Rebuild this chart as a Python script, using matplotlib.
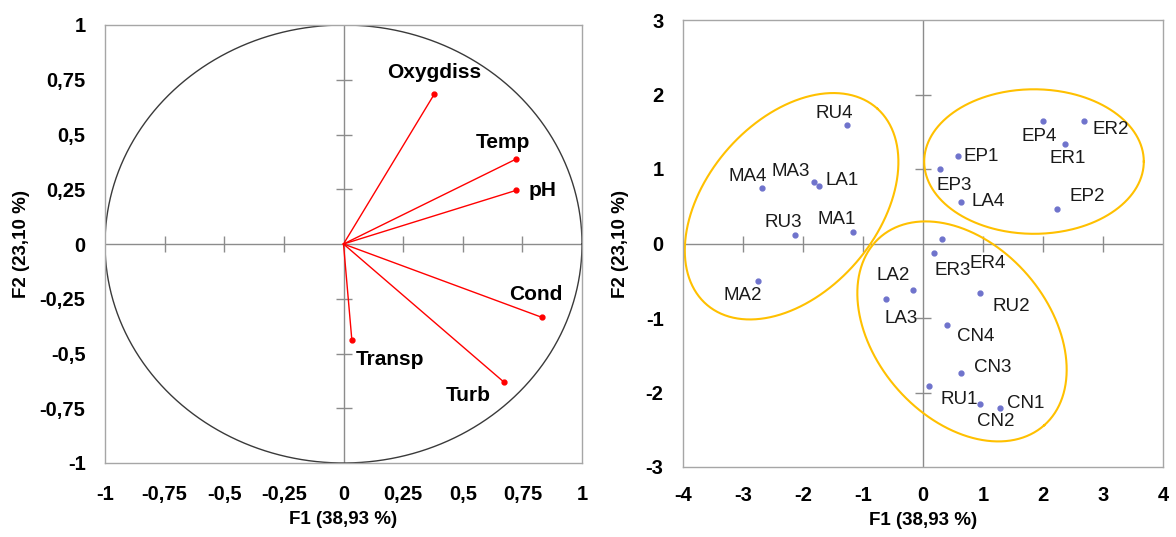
import numpy as np
import matplotlib
matplotlib.use("Agg")
import matplotlib.pyplot as plt

plt.rcParams['font.family'] = ['Liberation Sans', 'DejaVu Sans']

# correlation circle: variable loadings on F1 / F2
variables = ['Oxygdiss', 'Temp', 'pH', 'Cond', 'Turb', 'Transp']
var_f1 = [0.381, 0.724, 0.724, 0.832, 0.671, 0.035]
var_f2 = [0.685, 0.388, 0.245, -0.335, -0.629, -0.438]

# observations (stations) on F1 / F2
stations = ['RU4', 'MA4', 'MA3', 'LA1', 'RU3', 'MA1', 'MA2', 'LA2', 'LA3',
            'ER3', 'ER4', 'RU2', 'CN4', 'CN3', 'RU1', 'CN2', 'CN1',
            'EP4', 'ER2', 'ER1', 'EP1', 'EP3', 'LA4', 'EP2']
obs_f1 = [-1.27, -2.68, -1.82, -1.73, -2.13, -1.17, -2.75, -0.17, -0.62,
          0.19, 0.31, 0.95, 0.40, 0.63, 0.10, 0.95, 1.28,
          2.00, 2.69, 2.36, 0.58, 0.29, 0.64, 2.23]
obs_f2 = [1.59, 0.74, 0.83, 0.77, 0.11, 0.15, -0.51, -0.63, -0.75,
          -0.13, 0.06, -0.67, -1.10, -1.74, -1.91, -2.15, -2.21,
          1.65, 1.65, 1.34, 1.17, 1.00, 0.56, 0.46]

# groups drawn as ellipses: centre and the two half-axis vectors
ell_center = [(-2.19, 0.50), (1.85, 1.10), (0.65, -1.18)]
ell_axis_u = [(1.43, 1.31), (1.83, 0.0), (1.37, -1.26)]
ell_axis_v = [(-1.06, 0.77), (0.0, 0.97), (1.08, 0.77)]

circle_ticks = [-1, -0.75, -0.5, -0.25, 0, 0.25, 0.5, 0.75, 1]
x_ticks = [-4, -3, -2, -1, 0, 1, 2, 3, 4]
y_ticks = [-3, -2, -1, 0, 1, 2, 3]

xlabel = 'F1 (38,93 %)'
ylabel = 'F2 (23,10 %)'

# label placement, offsets in pixels from each point
var_offsets = {'Oxygdiss': (0, 21), 'Temp': (-13, 17), 'pH': (26, 0),
               'Cond': (-6, 23), 'Turb': (-35, -14), 'Transp': (38, -20)}
obs_offsets = {'RU4': (-13, 12), 'MA4': (-15, 12), 'MA3': (-23, 10),
               'LA1': (23, 6), 'RU3': (-12, 13), 'MA1': (-16, 13),
               'MA2': (-15, -14), 'LA2': (-20, 15), 'LA3': (15, -19),
               'ER3': (18, -17), 'ER4': (46, -24), 'RU2': (31, -13),
               'CN4': (29, -11), 'CN3': (32, 6), 'RU1': (30, -14),
               'CN2': (16, -18), 'CN1': (26, 5), 'EP4': (-4, -16),
               'ER2': (26, -9), 'ER1': (3, -15), 'EP1': (23, 0),
               'EP3': (14, -17), 'LA4': (27, 0), 'EP2': (30, 13)}

AXIS_GREY = '#8c8c8c'
FRAME_GREY = '#a6a6a6'


def fmt(v):
    return f"{v:g}".replace('.', ',')


def style_axes(ax, xt, yt, xlim, ylim, xpad, ylabelpad):
    ax.set_xlim(*xlim)
    ax.set_ylim(*ylim)
    ax.set_xticks(xt)
    ax.set_yticks(yt)
    ax.set_xticklabels([fmt(v) for v in xt], fontweight='bold', fontsize=14.5)
    ax.set_yticklabels([fmt(v) for v in yt], fontweight='bold', fontsize=14.5)
    ax.tick_params(axis='x', length=0, pad=xpad)
    ax.tick_params(axis='y', length=0, pad=14)
    for s in ax.spines.values():
        s.set_color(FRAME_GREY)
        s.set_linewidth(1)
    # axes through the origin with crossing tick marks
    ax.axhline(0, color=AXIS_GREY, lw=1, zorder=1)
    ax.axvline(0, color=AXIS_GREY, lw=1, zorder=1)
    inner_x = [v for v in xt if xlim[0] < v < xlim[1] and v != 0]
    inner_y = [v for v in yt if ylim[0] < v < ylim[1] and v != 0]
    ax.plot(inner_x, np.zeros(len(inner_x)), ls='none', marker='|',
            ms=12, mew=1, color=AXIS_GREY, zorder=1)
    ax.plot(np.zeros(len(inner_y)), inner_y, ls='none', marker='_',
            ms=12, mew=1, color=AXIS_GREY, zorder=1)
    ax.set_xlabel(xlabel, fontweight='bold', fontsize=13.5, labelpad=5)
    ax.set_ylabel(ylabel, fontweight='bold', fontsize=13.5, labelpad=ylabelpad)


fig = plt.figure(figsize=(11.76, 5.37), dpi=100)

# correlation circle
ax1 = fig.add_axes([105 / 1176, 74 / 537, 477 / 1176, 438 / 537])
style_axes(ax1, circle_ticks, circle_ticks, (-1, 1), (-1, 1), 16, 7)
t = np.linspace(0, 2 * np.pi, 400)
ax1.plot(np.cos(t), np.sin(t), color='#3a3a3a', lw=1, zorder=2)
for name, x, y in zip(variables, var_f1, var_f2):
    ax1.plot([0, x], [0, y], color='#ff0000', lw=1, zorder=3)
    ax1.plot(x, y, 'o', color='#ff0000', ms=3.5, zorder=4)
    dx, dy = var_offsets[name]
    ax1.annotate(name, (x, y), xytext=(dx, dy), textcoords='offset pixels',
                 ha='center', va='center', fontsize=15, fontweight='bold',
                 color='black')

# observations
ax2 = fig.add_axes([683 / 1176, 70 / 537, 480 / 1176, 447 / 537])
style_axes(ax2, x_ticks, y_ticks, (-4, 4), (-3, 3), 14, 12)
for (cx, cy), (ux, uy), (vx, vy) in zip(ell_center, ell_axis_u, ell_axis_v):
    ex = cx + ux * np.cos(t) + vx * np.sin(t)
    ey = cy + uy * np.cos(t) + vy * np.sin(t)
    ax2.plot(ex, ey, color='#ffc000', lw=1.5, zorder=2)
ax2.plot(obs_f1, obs_f2, 'o', ls='none', color='#6f73cc', ms=3.5, zorder=3)
for name, x, y in zip(stations, obs_f1, obs_f2):
    dx, dy = obs_offsets[name]
    ax2.annotate(name, (x, y), xytext=(dx, dy), textcoords='offset pixels',
                 ha='center', va='center', fontsize=13.5, color='#1a1a1a')

fig.savefig('out.png', dpi=100, facecolor='white')
